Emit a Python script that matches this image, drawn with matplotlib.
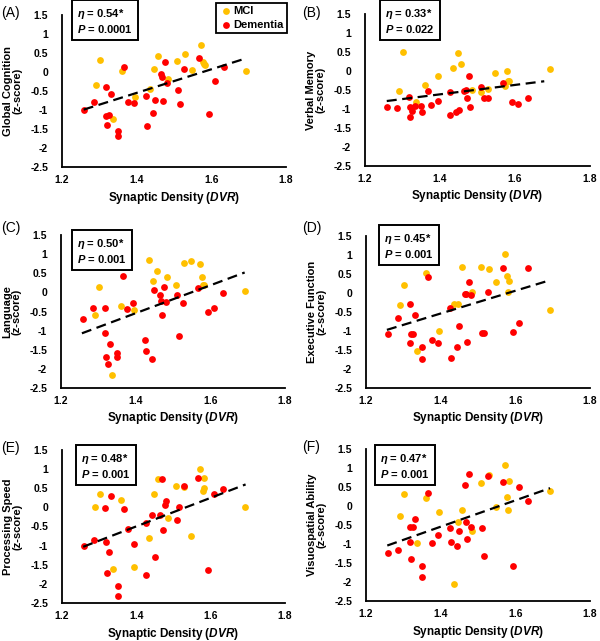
import numpy as np
import matplotlib.pyplot as plt

plt.rcParams['font.family'] = ['Liberation Sans', 'DejaVu Sans']
plt.rcParams['font.weight'] = 'bold'
plt.rcParams['mathtext.fontset'] = 'custom'
plt.rcParams['mathtext.rm'] = 'Liberation Sans:bold'
plt.rcParams['mathtext.it'] = 'Liberation Sans:italic:bold'
plt.rcParams['mathtext.bf'] = 'Liberation Sans:bold'
plt.rcParams['mathtext.bfit'] = 'Liberation Sans:italic:bold'

# synaptic density (DVR), same subjects in every panel
mci_dvr = [1.290, 1.301, 1.337, 1.360, 1.395, 1.435, 1.447, 1.457, 1.484,
           1.508, 1.529, 1.547, 1.572, 1.579, 1.581, 1.583, 1.693]
dem_dvr = [1.258, 1.286, 1.317, 1.319, 1.320, 1.326, 1.332, 1.350, 1.351,
           1.367, 1.377, 1.394, 1.426, 1.427, 1.443, 1.450, 1.464, 1.469,
           1.471, 1.476, 1.480, 1.510, 1.516, 1.528, 1.567, 1.593, 1.609, 1.634]

# z-scores per domain
mci_global = [-0.35, 0.31, -1.23, 0.03, -0.65, -0.44, 0.09, 0.42, -0.18,
              0.30, 0.47, 0.06, 0.71, 0.27, 0.22, 0.18, 0.02]
dem_global = [-0.99, -0.79, -0.39, -1.15, -1.39, -1.12, -0.57, -1.69, -1.56,
              0.14, -0.80, -0.81, -0.64, -1.43, -1.09, -0.74, -0.05, -0.14,
              -0.77, 0.26, -0.30, -0.48, -0.83, 0.08, 0.38, -1.10, -0.23, 0.12]

mci_memory = [-0.52, 0.51, -0.81, -0.38, -0.14, 0.07, 0.47, 0.19, -0.49,
              -0.56, -0.48, -0.06, -0.40, -0.01, -0.27, -0.25, 0.05]
dem_memory = [-0.95, -0.98, -0.68, -1.21, -0.94, -1.05, -0.91, -0.93, -1.08,
              -0.53, -0.90, -0.80, -1.16, -0.56, -1.09, -1.03, -0.52, -0.50,
              -0.72, -0.13, -0.94, -0.42, -0.72, -0.71, -0.31, -0.81, -0.86, -0.72]

mci_language = [-0.60, 0.15, -2.15, -0.36, -0.47, 0.85, 0.30, 0.57, 0.40,
                0.19, 0.78, 0.81, 0.75, 0.41, 0.20, 0.20, 0.04]
dem_language = [-0.69, -0.41, -0.42, -1.05, -1.69, -1.87, -1.36, -1.59, -1.69,
                0.43, -0.44, -0.28, -1.25, -1.54, -1.74, 0.07, -0.07, -0.22,
                -0.60, 0.13, -0.25, -0.06, -1.13, -0.29, 0.12, -0.52, -0.42, -0.01]

mci_exec = [-0.32, 0.20, -1.53, 0.52, -1.00, -0.30, -0.30, 0.68, 0.03,
            0.69, 0.64, 0.28, 1.02, 0.46, 0.03, 0.32, -0.45]
dem_exec = [-1.07, -0.65, -0.30, -1.32, -1.08, -1.08, -0.58, -1.41, -1.73,
            0.43, -1.24, -1.31, -0.40, -1.71, -1.41, -0.87, -0.03, -0.03,
            -1.29, 0.30, -0.04, -1.05, -1.05, 0.03, 0.65, -1.03, -0.78, 0.66]

mci_speed = [0.02, 0.36, -1.61, 0.18, -1.57, -0.80, 0.36, 0.73, -0.29,
             0.56, 0.52, -0.75, 1.01, 0.44, 0.50, 0.78, 0.02]
dem_speed = [-1.02, -0.84, -0.01, -0.91, -1.72, -1.17, 0.31, -2.06, -2.31,
             -0.04, -0.56, -0.97, -1.78, -0.42, -0.21, -1.29, -0.21, 0.73,
             -0.60, 0.06, 0.16, -0.32, 0.01, 0.57, 0.78, -1.64, 0.34, 0.49]

mci_visuo = [-0.25, 0.32, -0.97, 0.20, -0.16, -2.06, -0.43, -0.11, -0.65,
             0.61, 0.81, -0.02, 1.07, 0.25, -0.11, 0.67, 0.40]
dem_visuo = [-1.24, -1.17, -0.54, -0.96, -1.39, -0.54, -0.34, -1.87, -1.57,
             0.33, -0.97, -0.76, -0.57, -0.94, -1.04, -0.65, 0.54, -0.42,
             -0.88, 0.85, -0.54, -0.58, -1.32, 0.79, 0.62, -1.58, 0.50, 0.12]

letters = ['(A)', '(B)', '(C)', '(D)', '(E)', '(F)']
ylabels = ['Global Cognition', 'Verbal Memory', 'Language',
           'Executive Function', 'Processing Speed', 'Visuospatial Ability']
etas = ['0.54*', '0.33*', '0.50*', '0.45*', '0.48*', '0.47*']
pvals = ['0.0001', '0.022', '0.001', '0.001', '0.001', '0.001']
trend_x0 = [1.258, 1.258, 1.256, 1.256, 1.257, 1.257]
trend_x1 = [1.693, 1.678, 1.692, 1.694, 1.694, 1.693]
trend_y0 = [-0.99, -0.79, -1.07, -0.97, -1.03, -1.04]
trend_y1 = [0.36, -0.27, 0.52, 0.34, 0.60, 0.47]

mci_sets = [mci_global, mci_memory, mci_language, mci_exec, mci_speed, mci_visuo]
dem_sets = [dem_global, dem_memory, dem_language, dem_exec, dem_speed, dem_visuo]

W, H = 600, 641
fig = plt.figure(figsize=(W / 100, H / 100), dpi=100)

# axes boxes in pixels: left, right, top, bottom
boxes = [(62, 286, 15, 167), (365, 590, 14, 166),
         (61, 285, 235, 388), (366, 590, 236, 388),
         (62, 285, 450, 603), (366, 590, 449, 601)]
# stats box centres and panel-letter positions, pixels
stat_pos = [(105, 21), (410, 21), (102, 251), (409, 246), (106, 466), (405, 466)]
letter_pos = [(1, 13), (302, 13), (1, 228), (302, 228), (1, 448), (302, 447)]

for i in range(6):
    l, r, t, b = boxes[i]
    ax = fig.add_axes([l / W, 1 - b / H, (r - l) / W, (b - t) / H])
    s1 = ax.scatter(mci_dvr, mci_sets[i], s=24, c='#FFC000', lw=0, zorder=3)
    s2 = ax.scatter(dem_dvr, dem_sets[i], s=24, c='#FF0000', lw=0, zorder=3)
    ax.plot([trend_x0[i], trend_x1[i]], [trend_y0[i], trend_y1[i]],
            color='black', lw=1.6, ls=(0, (4.5, 2.5)), zorder=4)
    ax.set_xlim(1.2, 1.8)
    ax.set_ylim(-2.5, 1.5)
    ax.set_xticks([1.2, 1.4, 1.6, 1.8])
    ax.set_xticklabels(['1.2', '1.4', '1.6', '1.8'])
    yt = np.arange(-2.5, 1.51, 0.5)
    ax.set_yticks(yt)
    ax.set_yticklabels([f'{v:g}' for v in yt])
    ax.tick_params(length=0, labelsize=7.5)
    ax.tick_params(axis='y', pad=10)
    ax.tick_params(axis='x', pad=6)
    for sp in ['top', 'right']:
        ax.spines[sp].set_visible(False)
    for sp in ['left', 'bottom']:
        ax.spines[sp].set_linewidth(1.3)
    ax.set_xlabel(r'Synaptic Density ($\mathbfit{DVR}$)', fontsize=8.5,
                  fontweight='bold', labelpad=3)
    ax.set_ylabel(ylabels[i] + '\n(z-score)', fontsize=8, fontweight='bold',
                  linespacing=0.95)
    ax.yaxis.set_label_coords(-0.175, 0.5)

    sx, sy = stat_pos[i]
    fig.text(sx / W, 1 - sy / H,
             r'$\mathbfit{\eta}$ = ' + etas[i] + '\n' + r'$\mathbfit{P}$ = ' + pvals[i],
             ha='center', va='center', multialignment='left', fontsize=8,
             fontweight='bold', linespacing=1.25,
             bbox=dict(boxstyle='square,pad=0.45', fc='white', ec='black', lw=1.4))
    lx, ly = letter_pos[i]
    fig.text(lx / W, 1 - ly / H, letters[i], ha='left', va='center',
             fontsize=10, fontweight='normal')

    if i == 0:
        leg = ax.legend([s1, s2], ['MCI', 'Dementia'], loc='upper right',
                        bbox_to_anchor=(1.005, 1.08), frameon=True,
                        fancybox=False, framealpha=1, edgecolor='black',
                        prop={'size': 8, 'weight': 'bold'},
                        handletextpad=0.1, borderpad=0.3, labelspacing=0.3,
                        handlelength=1.2, borderaxespad=0)
        leg.get_frame().set_linewidth(1.3)

fig.savefig('out.png', dpi=100, facecolor='white')
